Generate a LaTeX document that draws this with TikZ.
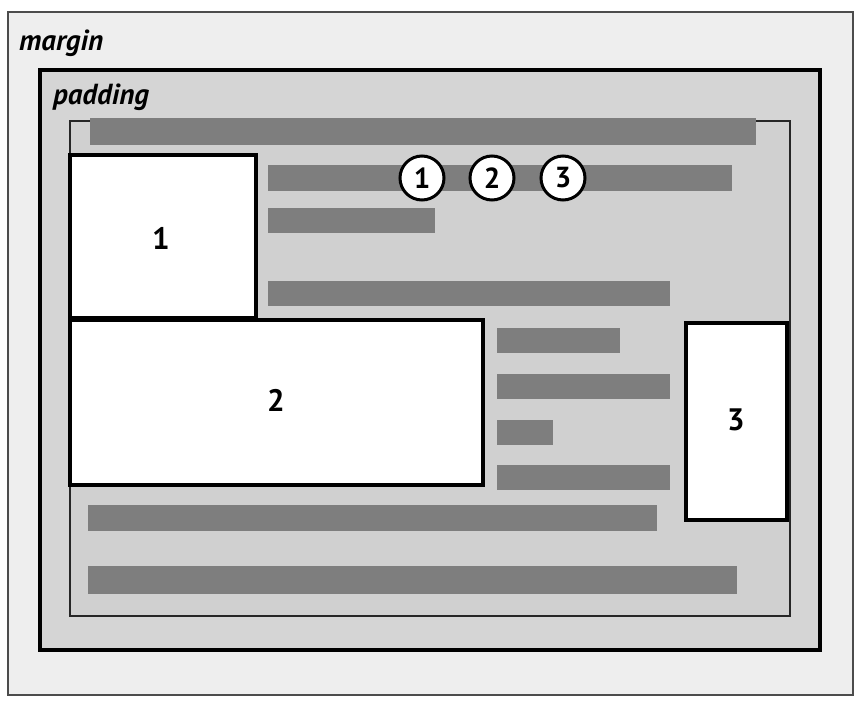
\documentclass[tikz,border=0pt]{standalone}
\usepackage{fontspec}
\setmainfont{PT Sans}
\begin{document}
\begin{tikzpicture}[x=1pt,y=-1pt,
  bar/.style={fill=barg,draw=none},
  floatbox/.style={draw=black,line width=3.2pt,fill=white},
  numlbl/.style={font=\bfseries\fontsize{31}{36}\selectfont},
  circnum/.style={circle,draw=black,line width=3pt,fill=white,minimum size=44pt,inner sep=0pt,font=\bfseries\fontsize{29}{34}\selectfont},
  boxlbl/.style={font=\bfseries\itshape\fontsize{29}{34}\selectfont,anchor=base west,inner sep=0pt}]
\definecolor{barg}{HTML}{7E7E7E}
\definecolor{margg}{HTML}{EEEEEE}
\definecolor{padg}{HTML}{D5D5D5}
\definecolor{contg}{HTML}{D0D0D0}
\useasboundingbox (0,0) rectangle (862,706);
\fill[white] (0,0) rectangle (862,706);
% margin box
\draw[draw=black!70,line width=1.8pt,fill=margg] (8,12) rectangle (853,695);
\node[boxlbl] (marginlbl) at (19,51) {margin};
% padding box
\draw[draw=black,line width=3.2pt,fill=padg] (40,70) rectangle (820,650);
\node[boxlbl] (paddinglbl) at (53,105) {padding};
% content box
\draw[draw=black!85,line width=2pt,fill=contg] (70,121) rectangle (790,616);
% bars
\fill[bar] (90,118) rectangle (756,145);
\fill[bar] (268,165) rectangle (732,191);
\fill[bar] (268,208) rectangle (435,233);
\fill[bar] (268,281) rectangle (670,306);
\fill[bar] (497,328) rectangle (620,353);
\fill[bar] (497,374) rectangle (670,399);
\fill[bar] (497,420) rectangle (553,445);
\fill[bar] (497,465) rectangle (670,490);
\fill[bar] (88,505) rectangle (657,531);
\fill[bar] (88,566) rectangle (737,594);
% floats
\draw[floatbox] (70,155) rectangle (256,318);
\node[numlbl] (one) at (161,238) {1};
\draw[floatbox] (70,320) rectangle (483,485);
\node[numlbl] (two) at (276,400) {2};
\draw[floatbox] (686,323) rectangle (787,520);
\node[numlbl] (three) at (736,420) {3};
% circled numbers
\node[circnum] (c1) at (422,178) {1};
\node[circnum] (c2) at (492,178) {2};
\node[circnum] (c3) at (563,178) {3};
\end{tikzpicture}
\end{document}
